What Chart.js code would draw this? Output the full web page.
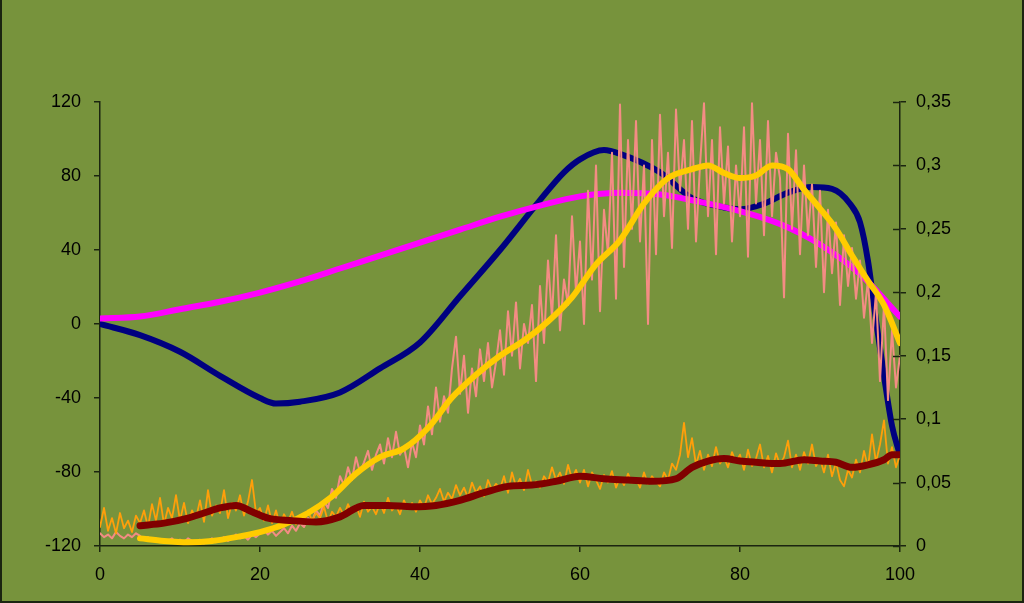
<!DOCTYPE html>
<html>
<head>
<meta charset="utf-8">
<script src="https://cdn.jsdelivr.net/npm/chart.js@4"></script>
<style>
html,body{margin:0;padding:0;background:#77933C;}
#wrap{position:relative;width:1024px;height:603px;}
canvas{display:block;background:#77933C;}
#frame{position:absolute;left:0;top:0;width:1024px;height:603px;box-sizing:border-box;border-left:2px solid #1b2410;border-right:2px solid #1b2410;border-bottom:2px solid #1b2410;pointer-events:none;}
</style>
</head>
<body>
<div id="wrap"><canvas id="c" width="1024" height="603"></canvas><div id="frame"></div></div>
<script>
// ---- Data ----
// Left axis series
const navyX = [0,5,10,15,20,22,25,30,35,40,45,50,55,58,60,63,65,70,74,78,80,83,86,89,91.5,93.75,95,96,97,98,99,100];
const navyY = [0,-6,-15,-28,-40,-43,-42,-37,-24,-10,15,40,67,82,89,94,92,82,68,63,62,65,71,74,73,65,55,34,2,-28,-55,-71];

const magX = [0,5,10,15,20,25,30,35,40,45,50,55,60,65,70,75,80,85,90,95,100];
const magY = [3,4,8,12,17,23,30,37,44,51,58,64,69,71,70,66,61,54,43,27,4];

// Right axis series
const yelX = [5,8,11,14,17,20,23,26,29,32,35,38,41,44,47,50,53,56,59,62,65,68,71,74,76,78,80,82,84,86,88,90,92,94,96,98,100];
const yelY = [0.006,0.004,0.003,0.004,0.007,0.011,0.017,0.026,0.039,0.057,0.070,0.077,0.093,0.117,0.135,0.150,0.162,0.177,0.196,0.222,0.241,0.270,0.290,0.297,0.300,0.294,0.290,0.292,0.300,0.297,0.281,0.266,0.250,0.229,0.209,0.190,0.160];

const redX = [5,8,11,13,15,17,19,21,24,27,30,33,36,39,42,45,48,51,54,57,60,63,66,69,72,74,76,78,80,82,85,88,90,92,94,96,98,99,100];
const redY = [0.016,0.018,0.022,0.026,0.030,0.032,0.027,0.022,0.020,0.019,0.023,0.032,0.032,0.031,0.032,0.036,0.042,0.047,0.048,0.051,0.055,0.053,0.052,0.051,0.053,0.062,0.067,0.069,0.067,0.066,0.065,0.068,0.067,0.066,0.062,0.064,0.068,0.072,0.072];

// Noisy series sampled every 0.5 on the x axis (x = 0 .. 100)
const noisyStep = 0.5;
const pinkY = [
0.010,0.007,0.009,0.006,0.011,0.008,0.006,0.009,0.007,0.010,
0.008,0.005,0.007,0.004,0.006,0.003,0.005,0.004,0.006,0.003,
0.005,0.003,0.006,0.004,0.003,0.005,0.002,0.004,0.006,0.003,
0.005,0.007,0.004,0.006,0.009,0.006,0.008,0.005,0.009,0.007,
0.010,0.013,0.009,0.012,0.008,0.011,0.014,0.010,0.016,0.012,
0.018,0.015,0.022,0.019,0.028,0.024,0.035,0.030,0.045,0.038,
0.055,0.048,0.062,0.052,0.070,0.058,0.066,0.075,0.060,0.072,
0.080,0.065,0.085,0.070,0.090,0.072,0.078,0.062,0.082,0.070,
0.095,0.080,0.110,0.088,0.125,0.098,0.118,0.105,0.140,0.165,
0.120,0.150,0.105,0.140,0.118,0.155,0.130,0.160,0.125,0.145,
0.170,0.135,0.185,0.150,0.192,0.140,0.175,0.160,0.190,0.130,
0.205,0.160,0.225,0.180,0.245,0.170,0.210,0.190,0.260,0.200,
0.240,0.175,0.280,0.210,0.300,0.185,0.265,0.230,0.310,0.195,
0.348,0.220,0.320,0.250,0.335,0.240,0.300,0.175,0.320,0.230,
0.340,0.260,0.310,0.235,0.344,0.280,0.320,0.250,0.335,0.240,
0.300,0.349,0.260,0.320,0.230,0.330,0.270,0.315,0.240,0.300,
0.260,0.330,0.228,0.349,0.270,0.320,0.245,0.335,0.260,0.310,
0.290,0.196,0.325,0.250,0.312,0.230,0.300,0.245,0.285,0.220,
0.280,0.200,0.265,0.215,0.255,0.190,0.245,0.205,0.235,0.195,
0.225,0.180,0.210,0.160,0.200,0.130,0.190,0.115,0.170,0.125,
0.150];
const orangeY = [
0.015,0.030,0.012,0.022,0.010,0.026,0.014,0.020,0.011,0.024,
0.018,0.028,0.015,0.033,0.020,0.038,0.017,0.030,0.022,0.040,
0.020,0.034,0.018,0.028,0.022,0.036,0.019,0.044,0.024,0.032,
0.026,0.044,0.022,0.034,0.028,0.040,0.024,0.035,0.052,0.026,
0.030,0.020,0.032,0.018,0.028,0.016,0.025,0.019,0.027,0.017,
0.024,0.018,0.028,0.020,0.026,0.022,0.031,0.019,0.027,0.023,
0.030,0.024,0.033,0.026,0.032,0.023,0.035,0.027,0.031,0.025,
0.034,0.026,0.038,0.028,0.032,0.025,0.036,0.029,0.034,0.027,
0.036,0.030,0.040,0.033,0.038,0.045,0.035,0.042,0.037,0.048,
0.040,0.046,0.038,0.050,0.042,0.047,0.039,0.052,0.044,0.049,
0.045,0.055,0.042,0.058,0.047,0.053,0.044,0.060,0.048,0.051,
0.046,0.055,0.050,0.062,0.052,0.058,0.049,0.064,0.053,0.060,
0.050,0.060,0.047,0.058,0.052,0.045,0.056,0.050,0.059,0.046,
0.054,0.048,0.057,0.050,0.053,0.046,0.058,0.049,0.055,0.051,
0.047,0.058,0.052,0.065,0.060,0.072,0.097,0.070,0.085,0.064,
0.075,0.060,0.072,0.063,0.078,0.065,0.070,0.062,0.074,0.066,
0.072,0.060,0.076,0.063,0.069,0.080,0.062,0.071,0.058,0.073,
0.064,0.070,0.083,0.062,0.072,0.060,0.074,0.065,0.080,0.063,
0.069,0.058,0.072,0.055,0.066,0.052,0.047,0.060,0.054,0.068,
0.058,0.075,0.062,0.088,0.066,0.080,0.099,0.065,0.078,0.062,
0.072];

const xTicks = [0,20,40,60,80,100];
const leftTicks = [-120,-80,-40,0,40,80,120];
const rightTicks = [0,0.05,0.1,0.15,0.2,0.25,0.3,0.35];

// ---- Build chart ----
function pts(xs, ys){ return ys.map((y,i)=>({x:xs[i], y:y})); }
function noisy(ys){ return ys.map((y,i)=>({x:i*noisyStep, y:y})); }

const axisColor = '#1b2410';
const font = {family:'"Liberation Sans", Arial, sans-serif', size:18};

const innerTicks = {
  id:'innerTicks',
  afterDraw(chart){
    const s = chart.scales.y2, ctx = chart.ctx;
    ctx.save();
    ctx.strokeStyle = axisColor; ctx.lineWidth = 1.5;
    rightTicks.forEach(v=>{
      const py = Math.round(s.getPixelForValue(v))+0.5;
      ctx.beginPath(); ctx.moveTo(s.left-7, py); ctx.lineTo(s.left, py); ctx.stroke();
    });
    ctx.restore();
  }
};

new Chart(document.getElementById('c'), {
  type:'line',
  data:{
    datasets:[
      {data:pts(redX,redY), yAxisID:'y2', borderColor:'#800000', borderWidth:7, cubicInterpolationMode:'monotone'},
      {data:pts(yelX,yelY), yAxisID:'y2', borderColor:'#FFCC00', borderWidth:6, cubicInterpolationMode:'monotone'},
      {data:noisy(orangeY), yAxisID:'y2', borderColor:'#FF9F0A', borderWidth:1.8, tension:0},
      {data:noisy(pinkY), yAxisID:'y2', borderColor:'#F48C84', borderWidth:2, tension:0},
      {data:pts(magX,magY), yAxisID:'y', borderColor:'#FF00FF', borderWidth:6, cubicInterpolationMode:'monotone'},
      {data:pts(navyX,navyY), yAxisID:'y', borderColor:'#000080', borderWidth:6, cubicInterpolationMode:'monotone'}
    ]
  },
  options:{
    responsive:false, animation:false,
    layout:{padding:{top:102, bottom:0, left:0, right:0}},
    elements:{point:{radius:0}, line:{borderCapStyle:'round', borderJoinStyle:'round'}},
    plugins:{legend:{display:false}, tooltip:{enabled:false}},
    scales:{
      x:{type:'linear', min:0, max:100,
        afterBuildTicks(s){ s.ticks = xTicks.map(v=>({value:v})); },
        afterFit(s){ s.height = 57; },
        grid:{display:true, drawOnChartArea:false, drawTicks:true, tickLength:6, color:axisColor, lineWidth:1.5},
        border:{display:true, color:axisColor, width:1.5},
        ticks:{color:'#000', font:font, padding:12, maxRotation:0}
      },
      y:{type:'linear', position:'left', min:-120, max:120,
        afterBuildTicks(s){ s.ticks = leftTicks.map(v=>({value:v})); },
        afterFit(s){ s.width = 100; },
        grid:{display:true, drawOnChartArea:false, drawTicks:true, tickLength:6, color:axisColor, lineWidth:1.5},
        border:{display:true, color:axisColor, width:1.5},
        ticks:{color:'#000', font:font, padding:13}
      },
      y2:{type:'linear', position:'right', min:0, max:0.35,
        afterBuildTicks(s){ s.ticks = rightTicks.map(v=>({value:v})); },
        afterFit(s){ s.width = 124; },
        grid:{display:true, drawOnChartArea:false, drawTicks:true, tickLength:6, color:axisColor, lineWidth:1.5},
        border:{display:true, color:axisColor, width:1.5},
        ticks:{color:'#000', font:font, padding:10,
          callback:(v)=>String(Math.round(v*100)/100).replace('.',',')}
      }
    }
  },
  plugins:[innerTicks]
});
</script>
</body>
</html>
